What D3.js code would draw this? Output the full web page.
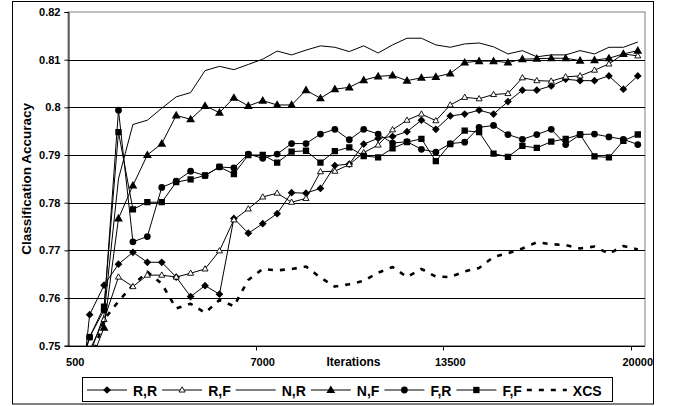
<!DOCTYPE html>
<html>
<head>
<meta charset="utf-8">
<script src="https://cdn.jsdelivr.net/npm/d3@7"></script>
<style>
  html, body { margin: 0; padding: 0; background: #fff; }
  svg { display: block; }
  text { font-family: Arial, "Liberation Sans", sans-serif; font-weight: bold; fill: #000; }
</style>
</head>
<body>
<svg id="chart" width="674" height="406"></svg>
<script>
// Training iterations (one sample every 500)
const iterations = d3.range(500, 20001, 500);

// Classification accuracy per configuration
const seriesRR = [0.728, 0.7565, 0.7627, 0.7671, 0.7696, 0.7675, 0.7675, 0.7644, 0.7603, 0.7626,
  0.7608, 0.7767, 0.7736, 0.7756, 0.7777, 0.7821, 0.7820, 0.7830, 0.7878, 0.7881,
  0.7923, 0.7935, 0.7939, 0.7949, 0.7973, 0.7954, 0.7982, 0.7986, 0.7994, 0.7986,
  0.8012, 0.8036, 0.8036, 0.8045, 0.8059, 0.8056, 0.8056, 0.8066, 0.8038, 0.8066];
const seriesRF = [0.735, 0.749, 0.7555, 0.7644, 0.7624, 0.7648, 0.7648, 0.7644, 0.7652, 0.7661,
  0.7699, 0.7764, 0.7787, 0.7812, 0.7820, 0.7801, 0.7809, 0.7865, 0.7866, 0.7880,
  0.7905, 0.7921, 0.7953, 0.7973, 0.7986, 0.7972, 0.8005, 0.8021, 0.8018, 0.8027,
  0.8029, 0.8062, 0.8056, 0.8055, 0.8064, 0.8066, 0.8078, 0.8091, 0.8112, 0.8108];
const seriesNR = [0.735, 0.748, 0.7565, 0.785, 0.7964, 0.7973, 0.7998, 0.8022, 0.8031, 0.8077,
  0.8086, 0.8079, 0.8090, 0.8101, 0.8118, 0.8110, 0.8120, 0.8129, 0.8126, 0.8117,
  0.8129, 0.8114, 0.8131, 0.8145, 0.8145, 0.8131, 0.8126, 0.8133, 0.8135, 0.8127,
  0.8112, 0.8119, 0.8106, 0.8110, 0.8110, 0.8119, 0.8112, 0.8126, 0.8126, 0.8137];
const seriesNF = [0.735, 0.746, 0.7538, 0.7767, 0.7836, 0.7900, 0.7924, 0.7983, 0.7975, 0.8003,
  0.7989, 0.8020, 0.8003, 0.8014, 0.8005, 0.8005, 0.8036, 0.8019, 0.8038, 0.8042,
  0.8057, 0.8065, 0.8067, 0.8056, 0.8062, 0.8064, 0.8071, 0.8094, 0.8097, 0.8097,
  0.8094, 0.8101, 0.8102, 0.8103, 0.8103, 0.8098, 0.8099, 0.8103, 0.8112, 0.8119];
const seriesFR = [0.741, 0.7518, 0.7575, 0.7994, 0.7718, 0.7729, 0.7832, 0.7845, 0.7866, 0.7857,
  0.7875, 0.7873, 0.7902, 0.7893, 0.7902, 0.7924, 0.7924, 0.7944, 0.7954, 0.7932,
  0.7954, 0.7944, 0.7925, 0.7928, 0.7912, 0.7906, 0.7924, 0.7927, 0.7958, 0.7962,
  0.7943, 0.7933, 0.7943, 0.7954, 0.7922, 0.7943, 0.7944, 0.7938, 0.7933, 0.7922];
const seriesFF = [0.742, 0.7518, 0.7582, 0.7948, 0.7786, 0.7801, 0.7801, 0.7843, 0.7849, 0.7857,
  0.7875, 0.7860, 0.7900, 0.7900, 0.7884, 0.7907, 0.7909, 0.7884, 0.7908, 0.7916,
  0.7898, 0.7895, 0.7914, 0.7927, 0.7934, 0.7887, 0.7923, 0.7951, 0.7948, 0.7903,
  0.7896, 0.7919, 0.7915, 0.7928, 0.7934, 0.7943, 0.7897, 0.7895, 0.7930, 0.7943];
const seriesXCS = [0.740, 0.746, 0.7555, 0.7593, 0.7627, 0.7655, 0.7630, 0.7578, 0.7588, 0.7569,
  0.7596, 0.7583, 0.7638, 0.7661, 0.7658, 0.7661, 0.7666, 0.7643, 0.7624, 0.7629,
  0.7636, 0.7653, 0.7665, 0.7644, 0.7661, 0.7645, 0.7644, 0.7656, 0.7663, 0.7686,
  0.7694, 0.7704, 0.7717, 0.7713, 0.7711, 0.7704, 0.7708, 0.7693, 0.7709, 0.7702];

const seriesNames = ["R,R", "R,F", "N,R", "N,F", "F,R", "F,F", "XCS"];
const xTickLabels = [500, 7000, 13500, 20000];
const yTicks = [0.75, 0.76, 0.77, 0.78, 0.79, 0.80, 0.81, 0.82];
const xTitle = "Iterations";
const yTitle = "Classification Accuracy";

// Drawing styles per series
const styles = {
  "R,R": { marker: "diamond", dash: null, width: 1 },
  "R,F": { marker: "openTriangle", dash: null, width: 1 },
  "N,R": { marker: null, dash: null, width: 1 },
  "N,F": { marker: "triangle", dash: null, width: 1 },
  "F,R": { marker: "circle", dash: null, width: 1 },
  "F,F": { marker: "square", dash: null, width: 1 },
  "XCS": { marker: null, dash: "5,7", width: 2.6 }
};
const seriesData = [seriesRR, seriesRF, seriesNR, seriesNF, seriesFR, seriesFF, seriesXCS];

const svg = d3.select("#chart");
const plot = { left: 68, right: 645, top: 12, bottom: 345.7 };

// Outer frame
svg.append("rect")
  .attr("x", 12.5).attr("y", 1.5).attr("width", 641).attr("height", 402.5)
  .attr("fill", "#fff").attr("stroke", "#000").attr("stroke-width", 1);

const x = d3.scaleBand().domain(iterations).range([plot.left, plot.right]).padding(0);
const xc = d => x(d) + x.bandwidth() / 2;
const y = d3.scaleLinear().domain([0.75, 0.82]).range([plot.bottom, plot.top]);

// Plot area border (grey)
svg.append("rect")
  .attr("x", plot.left).attr("y", plot.top)
  .attr("width", plot.right - plot.left).attr("height", plot.bottom - plot.top)
  .attr("fill", "none").attr("stroke", "#808080").attr("stroke-width", 1);

// Horizontal gridlines
svg.append("g").selectAll("line")
  .data(yTicks.filter(v => v > 0.75 && v < 0.82))
  .join("line")
  .attr("x1", plot.left).attr("x2", plot.right)
  .attr("y1", d => Math.round(y(d)) + 0.5).attr("y2", d => Math.round(y(d)) + 0.5)
  .attr("stroke", "#000").attr("stroke-width", 1);

// Y axis
const yAxis = d3.axisLeft(y)
  .tickValues(yTicks)
  .tickSize(4)
  .tickPadding(4)
  .tickFormat(d => String(+d.toFixed(2)));
const gy = svg.append("g").attr("transform", `translate(${plot.left + 0.5},0)`).call(yAxis);
gy.select(".domain").attr("stroke", "#000");
gy.selectAll("text").style("font-size", "11px").style("font-weight", "bold")
  .style("font-family", "Arial, 'Liberation Sans', sans-serif");

// X axis line
svg.append("line")
  .attr("x1", plot.left).attr("x2", plot.right)
  .attr("y1", Math.round(plot.bottom) + 0.5).attr("y2", Math.round(plot.bottom) + 0.5)
  .attr("stroke", "#000");

// X tick marks at category boundaries, labels at category centres
const gx = svg.append("g");
gx.selectAll("line")
  .data(xTickLabels.filter(v => v !== 500))
  .join("line")
  .attr("x1", d => Math.round(x(d)) + 0.5).attr("x2", d => Math.round(x(d)) + 0.5)
  .attr("y1", Math.round(plot.bottom) + 0.5).attr("y2", Math.round(plot.bottom) + 4.5)
  .attr("stroke", "#000");
gx.selectAll("text")
  .data(xTickLabels)
  .join("text")
  .attr("x", d => xc(d)).attr("y", 366)
  .attr("text-anchor", "middle")
  .style("font-size", "11px")
  .text(d => d);

// Axis titles
svg.append("text")
  .attr("x", (plot.left + plot.right) / 2 - 3).attr("y", 366)
  .attr("text-anchor", "middle").style("font-size", "12px")
  .text(xTitle);
svg.append("text")
  .attr("transform", `translate(30.5,${(plot.top + plot.bottom) / 2}) rotate(-90)`)
  .attr("text-anchor", "middle").style("font-size", "13.5px")
  .text(yTitle);

// Marker drawing
function drawMarker(sel, type) {
  if (type === "diamond") {
    sel.append("path").attr("d", d3.symbol(d3.symbolSquare, 30)()).attr("transform", "rotate(45)")
      .attr("fill", "#000");
  } else if (type === "triangle") {
    sel.append("path").attr("d", d3.symbol(d3.symbolTriangle, 34)()).attr("transform", "translate(0,0.5)")
      .attr("fill", "#000");
  } else if (type === "openTriangle") {
    sel.append("path").attr("d", d3.symbol(d3.symbolTriangle, 16)()).attr("transform", "translate(0,0.3)")
      .attr("fill", "#fff").attr("stroke", "#000").attr("stroke-width", 0.9);
  } else if (type === "circle") {
    sel.append("path").attr("d", d3.symbol(d3.symbolCircle, 36)()).attr("fill", "#000");
  } else if (type === "square") {
    sel.append("path").attr("d", d3.symbol(d3.symbolSquare, 40)()).attr("fill", "#000");
  }
}

// Series (clipped to the plot area)
svg.append("clipPath").attr("id", "plotClip")
  .append("rect").attr("x", plot.left).attr("y", plot.top)
  .attr("width", plot.right - plot.left).attr("height", plot.bottom - plot.top + 0.5);

const series = svg.append("g").attr("clip-path", "url(#plotClip)");
const line = d3.line().x((d, i) => xc(iterations[i])).y(d => y(d));

// Draw XCS and N,R first, then marker series on top
const order = [6, 2, 0, 1, 3, 4, 5];
order.forEach(k => {
  const name = seriesNames[k];
  const st = styles[name];
  const vals = seriesData[k];
  series.append("path")
    .datum(vals)
    .attr("d", line)
    .attr("fill", "none")
    .attr("stroke", "#000")
    .attr("stroke-width", st.width)
    .attr("stroke-dasharray", st.dash)
    .attr("stroke-linejoin", "round");
  if (st.marker) {
    const g = series.append("g");
    vals.forEach((v, i) => {
      const m = g.append("g").attr("transform", `translate(${xc(iterations[i])},${y(v)})`);
      drawMarker(m, st.marker);
    });
  }
});

// Legend
const legend = svg.append("g");
legend.append("rect")
  .attr("x", 82.5).attr("y", 377.5).attr("width", 530).attr("height", 24)
  .attr("fill", "#fff").attr("stroke", "#000");
let lx = 87;
const ly = 390;
seriesNames.forEach(name => {
  const st = styles[name];
  legend.append("line")
    .attr("x1", lx).attr("x2", lx + 40).attr("y1", ly).attr("y2", ly)
    .attr("stroke", "#000").attr("stroke-width", st.width)
    .attr("stroke-dasharray", st.dash);
  if (st.marker) {
    drawMarker(legend.append("g").attr("transform", `translate(${lx + 20},${ly})`), st.marker);
  }
  const t = legend.append("text")
    .attr("x", lx + 46).attr("y", ly + 5.5)
    .style("font-size", "14px")
    .text(name);
  lx = lx + 46 + t.node().getComputedTextLength() + 5;
});
</script>
</body>
</html>
